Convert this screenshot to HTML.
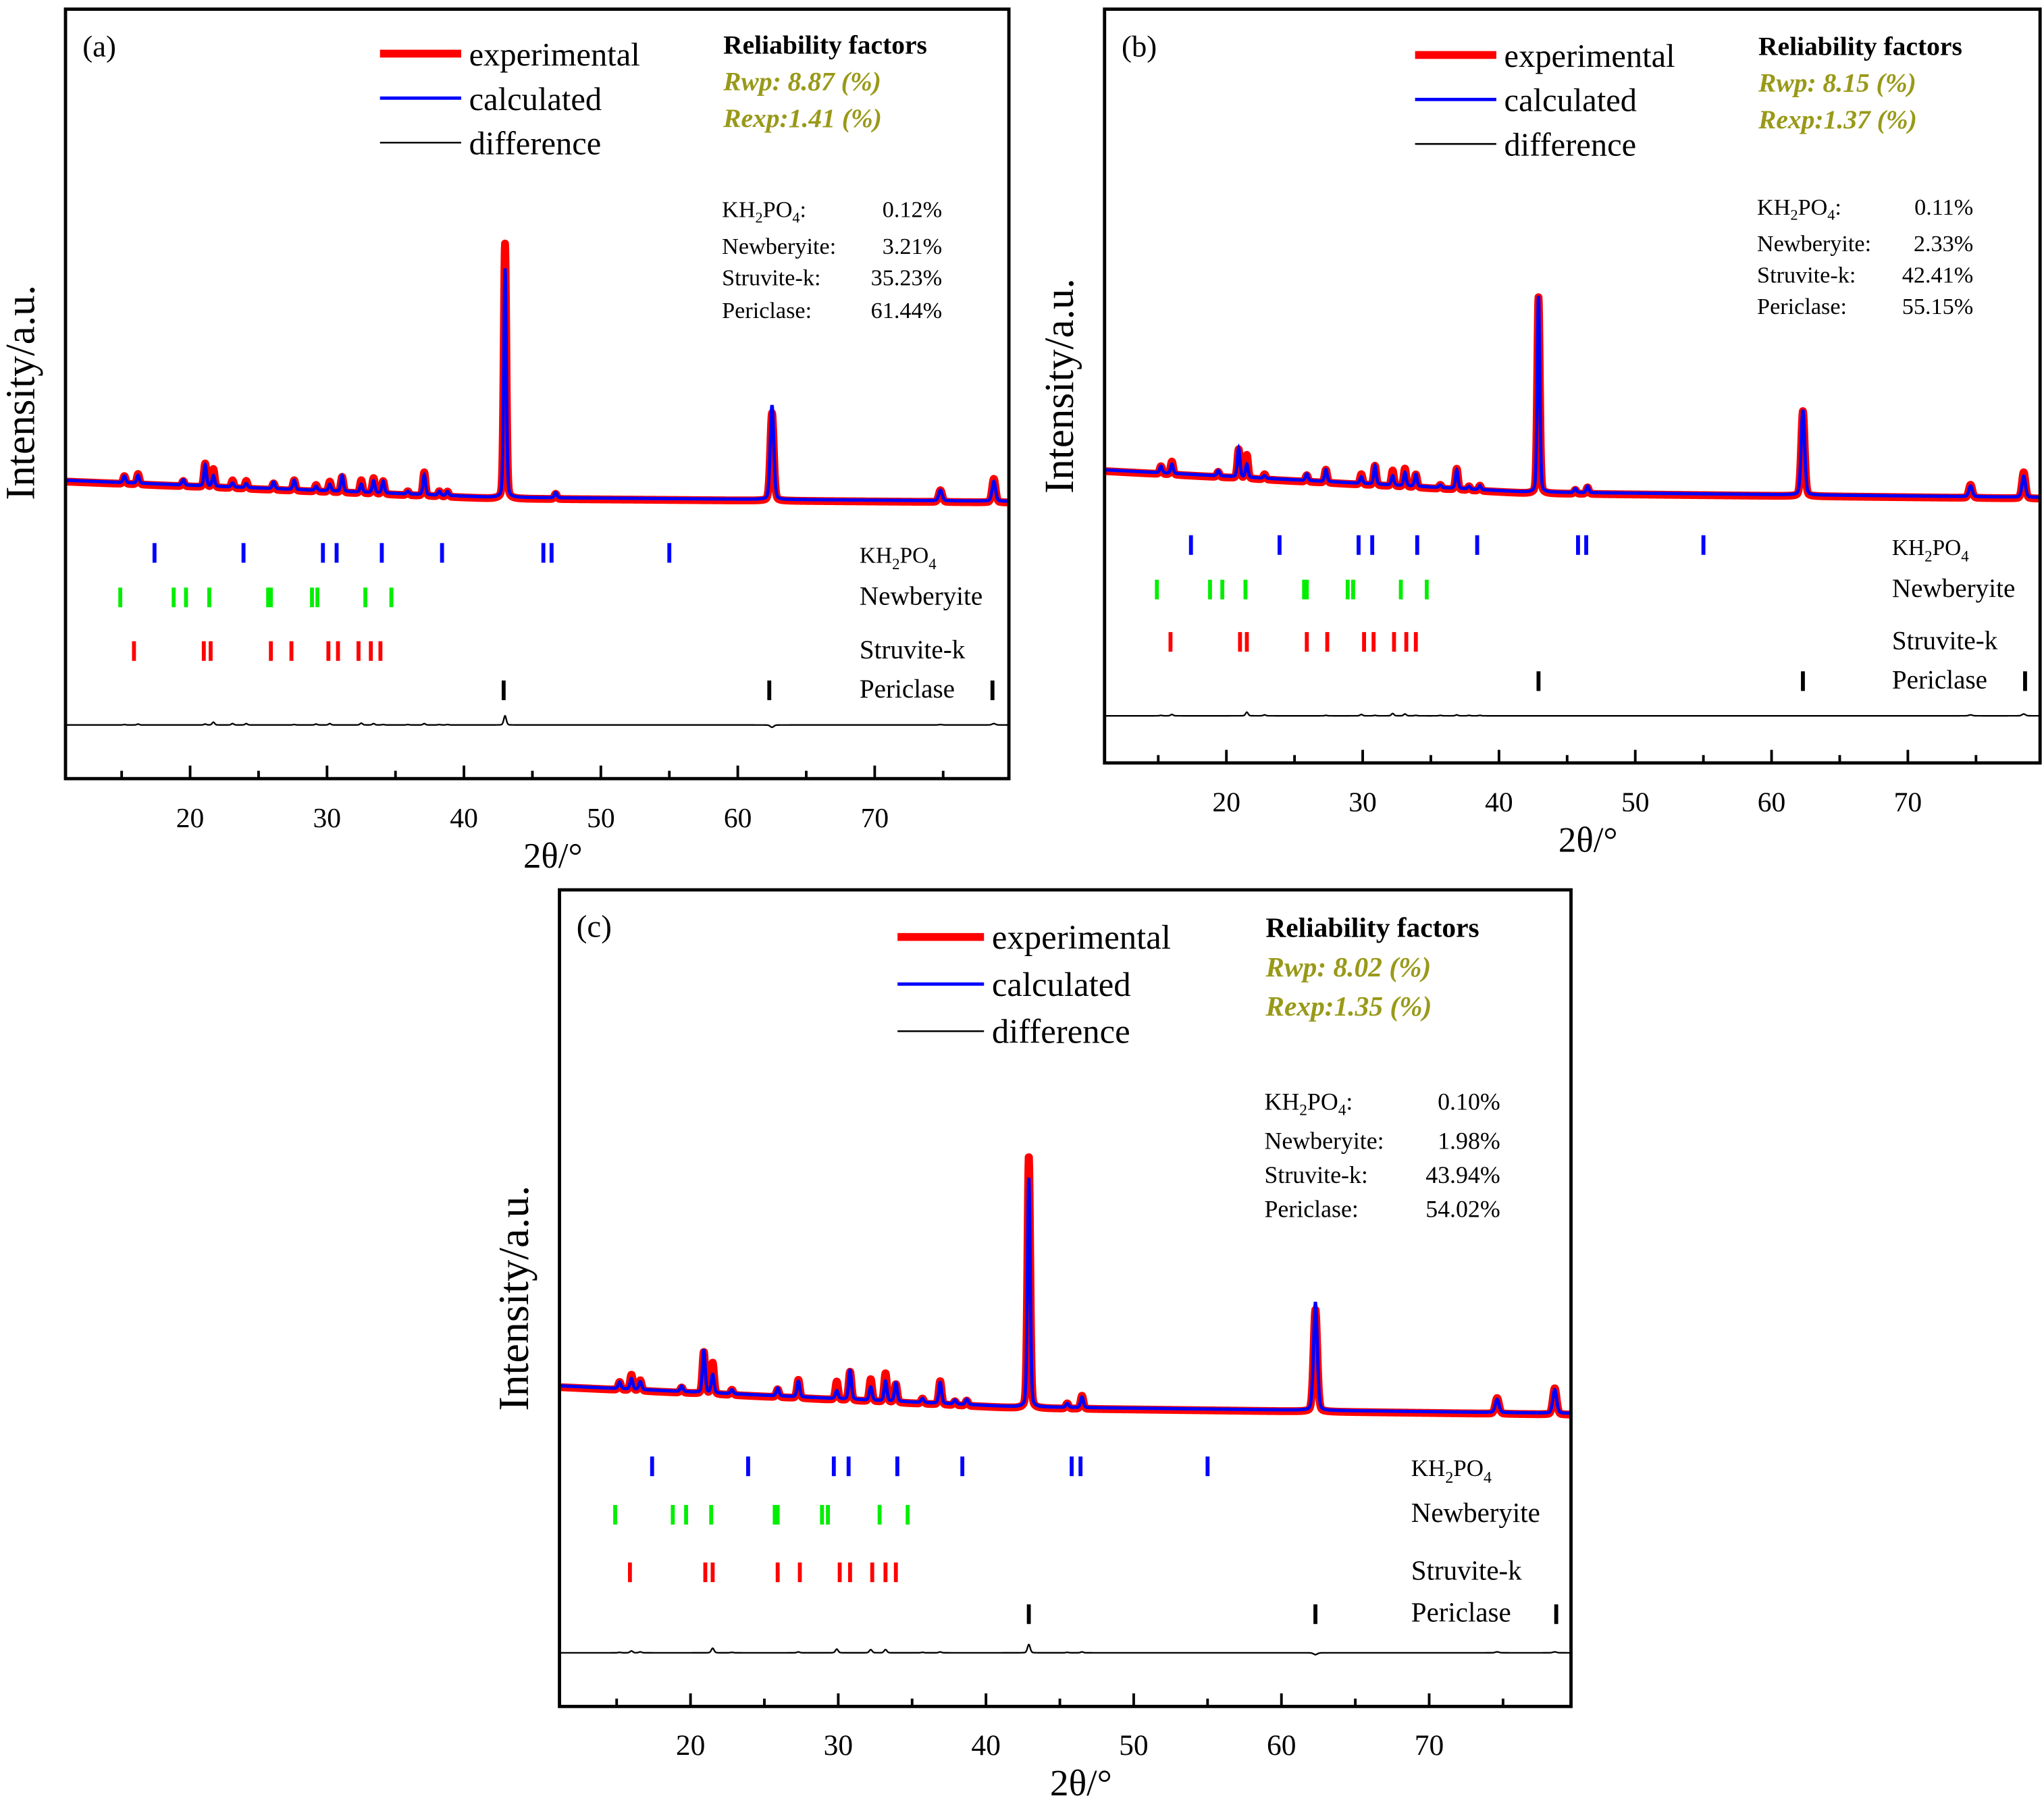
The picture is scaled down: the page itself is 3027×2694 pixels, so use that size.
<!DOCTYPE html>
<html><head><meta charset="utf-8"><style>
html,body{margin:0;padding:0;background:#fff;}
svg{display:block;}
text{font-family:"Liberation Serif","DejaVu Serif",serif;}
</style></head><body>
<svg id="fig" width="3027" height="2694" viewBox="0 0 1560 1390" preserveAspectRatio="none" xmlns="http://www.w3.org/2000/svg"></svg>
<script>
// ---- data ----
const peakPosA = [15.2,16.2,19.5,21.1,21.7,23.1,24.1,26.1,27.6,29.2,30.2,31.1,32.5,33.4,34.1,35.9,37.1,38.2,38.8,43.0,46.7,62.5,74.8,78.7];
const expHA   = [6,8,4,18,14,6,6,5,8,5,8,12,10,12,10,3,18,4,4,195,4,67,9,18];
const calcHA  = [5,6,4,16,8,3,3,5,7,3,5,12,6,9,9,2,15,3,3,175,4,72,8,15];
const peakPosB = [15.2,16.0,19.4,20.9,21.5,22.8,25.9,27.3,29.9,30.9,32.2,33.1,33.9,35.7,36.9,37.8,38.6,42.9,45.6,46.5,62.3,74.6,78.5];
const expHB   = [6,10,4,22,18,4,5,10,8,15,12,14,10,3,16,3,4,150,3,5,65,10,20];
const calcHB  = [5,7,4,22,10,2,5,9,5,14,7,10,9,2,14,2,3,150,3,5,65,8,16];
const peakPosC = [15.2,16.0,16.6,19.4,20.9,21.5,22.8,25.9,27.3,29.9,30.8,32.2,33.2,33.9,35.7,36.9,37.9,38.7,42.9,45.5,46.5,62.3,74.6,78.5];
const expHC   = [6,12,8,4,32,24,4,6,14,14,22,17,22,14,4,18,3,4,193,4,10,78,12,20];
const calcC   = [5,8,6,4,32,14,3,6,12,6,22,10,15,14,3,16,3,4,175,3,8,82,10,18];
const khTicks = [17.4,23.9,29.7,30.7,34.0,38.4,45.8,46.4,55.0];
const newbTicks = [14.9,18.8,19.7,21.4,25.7,25.9,28.9,29.3,32.8,34.7];
const struvTicks = [15.9,21.0,21.5,25.9,27.4,30.1,30.8,32.3,33.2,33.9];
const periTicks = [42.9,62.3,78.6];
const xTickLabels = [20,30,40,50,60,70];
const labelsA = ["(a)","8.87","1.41","0.12%","3.21%","35.23%","61.44%"];
const labelsB = ["(b)","8.15","1.37","0.11%","2.33%","42.41%","55.15%"];
const labelsC = ["(c)","8.02","1.35","0.10%","1.98%","43.94%","54.02%"];

const NS="http://www.w3.org/2000/svg";
const svg=document.getElementById('fig');
function mk(tag,attrs,parent,txt){const e=document.createElementNS(NS,tag);for(const k in attrs)e.setAttribute(k,attrs[k]);if(txt!==undefined)e.textContent=txt;(parent||svg).appendChild(e);return e;}

function panel(id,g,pos,eh,ch,labels){
  const grp=mk('g',{});
  
  
  const X=v=>g.x0+(v-g.xmin)/(g.xmax-g.xmin)*(g.x1-g.x0);
  const base=v=> v<g.kneeX ? g.b0+(g.b1-g.b0)*(v-g.xmin)/(g.kneeX-g.xmin) : g.b1+(g.b2-g.b1)*(v-g.kneeX)/(g.xmax-g.kneeX);
  const prof=(v,H)=>{let s=0;for(let i=0;i<pos.length;i++){const w=pos[i]>60?0.15:0.11;const d=(v-pos[i])/w;s+=H[i]*(0.8*Math.exp(-0.69*d*d)+0.2/(1+d*d));}return s;};
  const line=(fn)=>{let d='';for(let v=g.xmin;v<=g.xmax;v+=0.02){d+=(d?'L':'M')+X(v).toFixed(2)+','+fn(v).toFixed(2);}return d;};
  const clip='clip-'+id;
  const cp=mk('clipPath',{id:clip},grp);mk('rect',{x:g.x0,y:g.y0,width:g.x1-g.x0,height:g.y1-g.y0},cp);
  const e=mk('path',{d:line(v=>base(v)-prof(v,eh)),fill:'none',stroke:'#ff0000','stroke-width':6,'stroke-linejoin':'round','clip-path':'url(#'+clip+')'},grp);
  
  
  const c=mk('path',{d:line(v=>base(v)-prof(v,ch)-1),fill:'none',stroke:'#0000ff','stroke-width':2.5,'clip-path':'url(#'+clip+')'},grp);
  
  
  const df=mk('path',{d:line(v=>g.diffY-(prof(v,eh)-prof(v,ch))*0.35),fill:'none',stroke:'#000','stroke-width':1.2,'clip-path':'url(#'+clip+')'},grp);
  
  
  const rows=[[khTicks,'#0000ff',g.rows[0]],[newbTicks,'#00ee00',g.rows[1]],[struvTicks,'#ff0000',g.rows[2]],[periTicks,'#000',g.rows[3]]];
  const rn=['kh2po4','newberyite','struvite-k','periclase'];
  rows.forEach((r,ri)=>{r[0].forEach(t=>{const m=mk('line',{x1:X(t),x2:X(t),y1:r[2],y2:r[2]+15,stroke:r[1],'stroke-width':3},grp);
    
    });});
  const fs=g.fs;
  const lx=g.labelX;
  const t0=mk('text',{x:lx,y:g.rows[0]+15,'font-size':fs*0.82},grp);
  
  
  t0.innerHTML='KH<tspan font-size="'+fs*0.56+'" dy="5">2</tspan><tspan dy="-5">PO</tspan><tspan font-size="'+fs*0.56+'" dy="5">4</tspan>';
  ['Newberyite','Struvite-k','Periclase'].forEach((s,i)=>{const t=mk('text',{x:lx,y:g.rows[i+1]+13,'font-size':fs*0.96},grp,s);
    
    });
  const fr=mk('rect',{x:g.x0,y:g.y0,width:g.x1-g.x0,height:g.y1-g.y0,fill:'none',stroke:'#000','stroke-width':2.5},grp);
  
  
  for(let v=15;v<g.xmax;v+=5){const maj=v%10===0;mk('line',{x1:X(v),x2:X(v),y1:g.y1,y2:g.y1-(maj?10:6),stroke:'#000','stroke-width':2},grp);}
  xTickLabels.forEach(v=>{const t=mk('text',{x:X(v),y:g.y1+37,'font-size':fs*1.02,'text-anchor':'middle'},grp,v);
    
    });
  const xt=mk('text',{x:(g.x0+g.x1)/2+12,y:g.y1+68,'font-size':fs*1.3,'text-anchor':'middle'},grp,'2θ/°');
  
  
  const yt=mk('text',{x:0,y:0,'font-size':fs*1.5,'text-anchor':'middle',transform:'translate('+(g.x0-24)+','+g.ylc+') rotate(-90)'},grp,'Intensity/a.u.');
  
  
  const pl=mk('text',{x:g.x0+13,y:g.y0+36,'font-size':fs*1.1},grp,labels[0]);
  
  
  const L=g.leg, sp=g.legSp;
  [['#ff0000',6,'experimental'],['#0000ff',2.5,'calculated'],['#000',1.3,'difference']].forEach((it,i)=>{
    mk('line',{x1:L[0],x2:L[0]+g.legW,y1:L[1]+i*sp,y2:L[1]+i*sp,stroke:it[0],'stroke-width':it[1]},grp);
    const t=mk('text',{x:L[0]+g.legW+6,y:L[1]+i*sp+9,'font-size':fs*1.19},grp,it[2]);
    
    });
  const R=g.rel;
  const rf=mk('text',{x:R[0],y:R[1]+7,'font-size':fs*0.97,'font-weight':'bold'},grp,'Reliability factors');
  
  
  const rw=mk('text',{x:R[0],y:R[1]+7+g.relSp,'font-size':fs*0.97,'font-weight':'bold','font-style':'italic',fill:'#999919'},grp,'Rwp: '+labels[1]+' (%)');
  
  
  const re=mk('text',{x:R[0],y:R[1]+7+2*g.relSp,'font-size':fs*0.97,'font-weight':'bold','font-style':'italic',fill:'#999919'},grp,'Rexp:'+labels[2]+' (%)');
  
  
  const C=g.comp, cfs=fs*0.84;
  const ck=mk('text',{x:C[0],y:C[1][0]+6,'font-size':cfs},grp);
  ck.innerHTML='KH<tspan font-size="'+cfs*0.65+'" dy="4">2</tspan><tspan dy="-4">PO</tspan><tspan font-size="'+cfs*0.65+'" dy="4">4</tspan><tspan dy="-4">:</tspan>';
  
  
  ['Newberyite:','Struvite-k:','Periclase:'].forEach((s,i)=>{const t=mk('text',{x:C[0],y:C[1][i+1]+6,'font-size':cfs},grp,s);
    
    });
  for(let i=0;i<4;i++){const t=mk('text',{x:C[2],y:C[1][i]+6,'font-size':cfs,'text-anchor':'end'},grp,labels[3+i]);
    
    }
}

panel('a',{x0:50,x1:770,y0:7,y1:595,xmin:10.9,xmax:79.8,b0:368,b1:381,b2:384,kneeX:42,k:1,diffY:554,
  rows:[415,449,490,520],labelX:656,fs:21,ylc:300,leg:[290,41],legW:62,legSp:34,rel:[552,34],relSp:28,comp:[551,[160,188,212,237],719]},
  peakPosA,expHA,calcHA,labelsA);
panel('b',{x0:843,x1:1557,y0:7,y1:583,xmin:11.06,xmax:79.7,b0:360,b1:377,b2:381,kneeX:42,k:1,diffY:547,
  rows:[409,443,483,513],labelX:1444,fs:21,ylc:295,leg:[1080,42],legW:62,legSp:34,rel:[1342,35],relSp:28,comp:[1341,[158,186,210,234],1506]},
  peakPosB,expHB,calcHB,labelsB);
panel('c',{x0:427,x1:1199,y0:680,y1:1304,xmin:11.13,xmax:79.6,b0:1060,b1:1076,b2:1081,kneeX:42,k:1,diffY:1263,
  rows:[1113,1150,1194,1226],labelX:1077,fs:22,ylc:992,leg:[685,716],legW:66,legSp:36,rel:[966,709],relSp:30,comp:[965,[842,872,898,924],1145]},
  peakPosC,expHC,calcC,labelsC);
</script>
</body></html>
